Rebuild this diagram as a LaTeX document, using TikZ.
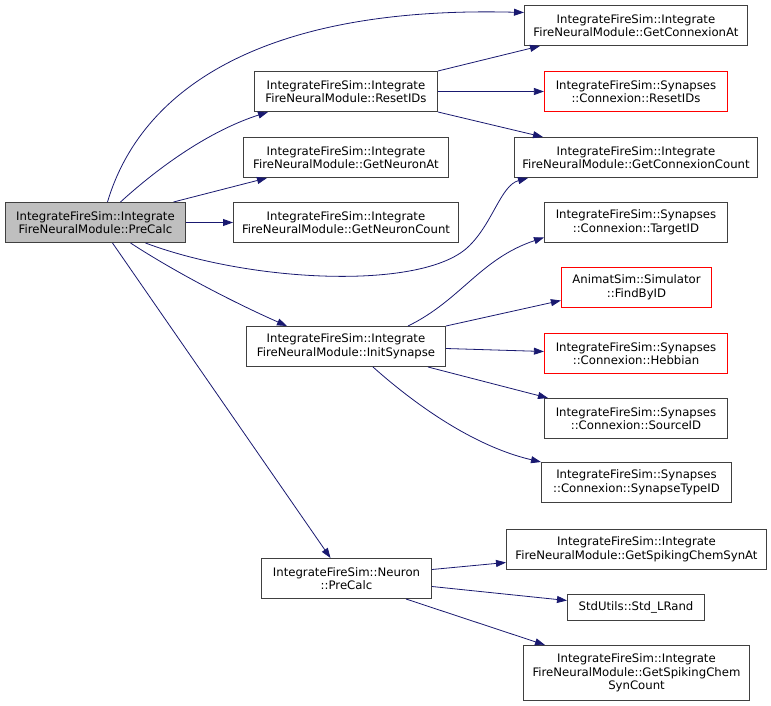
\documentclass[tikz,border=0pt]{standalone}
\usepackage{fontspec}
\setmainfont{DejaVu Sans}
\usepackage{xcolor}
\usepackage{tikz}
\usetikzlibrary{arrows.meta,positioning,calc}

\definecolor{calledge}{HTML}{191970}
\definecolor{boxline}{HTML}{404040}
\definecolor{missingline}{HTML}{FF0000}

\begin{document}
\begin{tikzpicture}[
    x=1pt, y=-1pt,
    font=\fontsize{11.7}{13.6}\selectfont,
    >={Triangle[length=10pt,width=7pt]},
    fnbox/.style={draw=boxline, line width=1pt, align=center, inner sep=0pt,
        minimum height=40pt},
    fnmissing/.style={color=missingline, draw, text=black, line width=1.2pt,
        align=center, inner sep=0pt, minimum height=40pt},
    fnself/.style={fnbox, fill=black!25},
    call/.style={->, draw=calledge, line width=0.8pt}
]
    % pixel grid: integer coordinates sit on pixel centres
    \useasboundingbox (-0.5,-0.5) rectangle (770.5,705.5);

    % Caller
    \node[fnself, minimum width=180pt] (precalc) at (95,222)
        {IntegrateFireSim::Integrate\\FireNeuralModule::PreCalc};

    % Second column
    \node[fnbox, minimum width=183pt] (resetids) at (345.5,91)
        {IntegrateFireSim::Integrate\\FireNeuralModule::ResetIDs};
    \node[fnbox, minimum width=205pt] (neuronat) at (345.5,157)
        {IntegrateFireSim::Integrate\\FireNeuralModule::GetNeuronAt};
    \node[fnbox, minimum width=225pt] (neuroncount) at (345.5,222)
        {IntegrateFireSim::Integrate\\FireNeuralModule::GetNeuronCount};
    \node[fnbox, minimum width=199pt] (initsyn) at (345.5,346)
        {IntegrateFireSim::Integrate\\FireNeuralModule::InitSynapse};
    \node[fnbox, minimum width=170pt] (neuronpre) at (346,578)
        {IntegrateFireSim::Neuron\\::PreCalc};

    % Third column
    \node[fnbox, minimum width=223pt] (connat) at (635.5,25)
        {IntegrateFireSim::Integrate\\FireNeuralModule::GetConnexionAt};
    \node[fnmissing, minimum width=183pt] (connreset) at (635.5,91)
        {IntegrateFireSim::Synapses\\::Connexion::ResetIDs};
    \node[fnbox, minimum width=243pt] (conncount) at (635.5,157)
        {IntegrateFireSim::Integrate\\FireNeuralModule::GetConnexionCount};
    \node[fnbox, minimum width=183pt] (targetid) at (635.5,222)
        {IntegrateFireSim::Synapses\\::Connexion::TargetID};
    \node[fnmissing, minimum width=150pt] (findbyid) at (636,287)
        {AnimatSim::Simulator\\::FindByID};
    \node[fnmissing, minimum width=183pt] (hebbian) at (635.5,353)
        {IntegrateFireSim::Synapses\\::Connexion::Hebbian};
    \node[fnbox, minimum width=183pt] (sourceid) at (635.5,418)
        {IntegrateFireSim::Synapses\\::Connexion::SourceID};
    \node[fnbox, minimum width=190pt] (syntype) at (636,482)
        {IntegrateFireSim::Synapses\\::Connexion::SynapseTypeID};
    \node[fnbox, minimum width=260pt] (spikeat) at (636,549)
        {IntegrateFireSim::Integrate\\FireNeuralModule::GetSpikingChemSynAt};
    \node[fnbox, minimum width=137pt, minimum height=26pt] (lrand) at (635.5,607)
        {StdUtils::Std\_LRand};
    \node[fnbox, minimum width=226pt, minimum height=55pt] (spikecount) at (636,672.5)
        {IntegrateFireSim::Integrate\\FireNeuralModule::GetSpikingChem\\SynCount};

    % Calls from PreCalc
    \draw[call] ([xshift=12pt]precalc.north) .. controls (140,90) and (260,5) .. ([yshift=13pt]connat.west);
    \draw[call] ([xshift=25pt]precalc.north) .. controls (160,165) and (210,130) .. ([xshift=14pt]resetids.south west);
    \draw[call] ([xshift=78pt]precalc.north) -- ([xshift=24pt]neuronat.south west);
    \draw[call] (precalc.east) -- (neuroncount.west);
    \draw[call] ([xshift=50pt]precalc.south) .. controls (250,282) and (420,290) .. (467,247)
        .. controls (492,224) and (500,185) .. ([xshift=14pt]conncount.south west);
    \draw[call] ([xshift=35pt]precalc.south) .. controls (180,275) and (240,305) .. ([xshift=41pt]initsyn.north west);
    \draw[call] ([xshift=17pt]precalc.south) -- ([xshift=-16pt]neuronpre.north);

    % Calls from ResetIDs
    \draw[call] (resetids.north east) -- ([xshift=16pt]connat.south west);
    \draw[call] (resetids.east) -- (connreset.west);
    \draw[call] (resetids.south east) -- ([xshift=29pt]conncount.north west);

    % Calls from InitSynapse
    \draw[call] ([xshift=-38pt]initsyn.north east) .. controls (460,300) and (480,258) .. ([yshift=-15pt]targetid.west);
    \draw[call] (initsyn.north east) -- ([yshift=-13pt]findbyid.west);
    \draw[call] ([yshift=-2pt]initsyn.east) -- ([yshift=2pt]hebbian.west);
    \draw[call] ([xshift=-18pt]initsyn.south east) -- ([xshift=4pt]sourceid.north west);
    \draw[call] ([xshift=-73pt]initsyn.south east) .. controls (410,400) and (470,445) .. (syntype.north west);

    % Calls from Neuron::PreCalc
    \draw[call] ([yshift=9pt]neuronpre.east) -- ([yshift=-13pt]spikeat.west);
    \draw[call] ([yshift=-8pt]neuronpre.east) -- ([yshift=7pt]lrand.west);
    \draw[call] ([xshift=-26pt]neuronpre.south east) -- ([xshift=22pt]spikecount.north west);
\end{tikzpicture}
\end{document}
